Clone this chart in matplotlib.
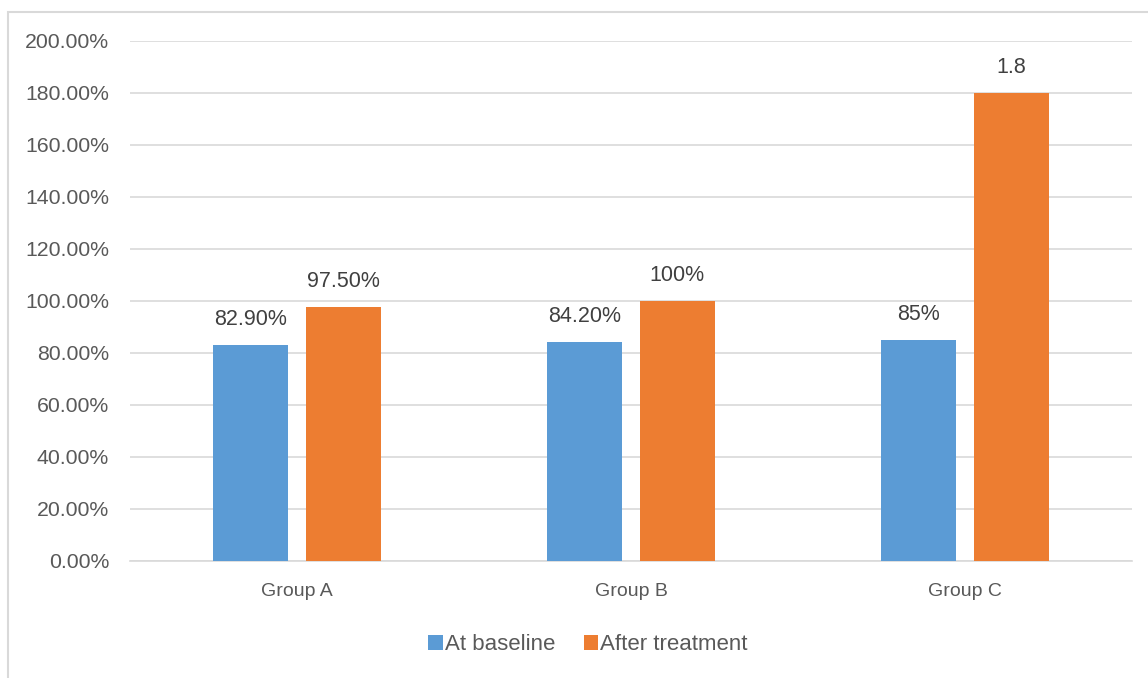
import matplotlib
matplotlib.use("Agg")
import matplotlib.pyplot as plt
import matplotlib.patches as patches
import numpy as np

# data
groups = ["Group A", "Group B", "Group C"]
baseline = [82.9, 84.2, 85.0]
after = [97.5, 100.0, 180.0]
baseline_labels = ["82.90%", "84.20%", "85%"]
after_labels = ["97.50%", "100%", "1.8"]
series_names = ["At baseline", "After treatment"]
yticks = list(range(0, 201, 20))

blue = "#5B9BD5"
orange = "#ED7D31"
grey_text = "#595959"
grid_col = "#D9D9D9"

plt.rcParams['font.family'] = ['Liberation Sans', 'DejaVu Sans']

fig = plt.figure(figsize=(11.48, 6.78), dpi=100)
ax = fig.add_axes([130/1148, 1 - 561/678, 1002/1148, 520/678])

# chart frame (runs past the right and bottom edges, like the crop)
frame = patches.Rectangle((8/1148, -0.1), 1.2, 1.1 - 12/678, transform=fig.transFigure,
                          fill=False, edgecolor="#D9D9D9", linewidth=1.5)
fig.patches.append(frame)

x = np.arange(len(groups))
w = 0.225
off = 0.139
b1 = ax.bar(x - off, baseline, w, color=blue, label=series_names[0], zorder=3)
b2 = ax.bar(x + off, after, w, color=orange, label=series_names[1], zorder=3)

for bars, labs in ((b1, baseline_labels), (b2, after_labels)):
    for rect, lab in zip(bars, labs):
        ax.annotate(lab, (rect.get_x() + rect.get_width()/2, rect.get_height()),
                    xytext=(0, 11), textcoords="offset points", ha="center", va="bottom",
                    fontsize=15.5, color="#404040")

ax.set_xlim(-0.5, 2.5)
ax.set_ylim(0, 200)
ax.set_yticks(yticks)
ax.set_yticklabels(["%.2f%%" % v for v in yticks])
ax.set_xticks(x)
ax.set_xticklabels(groups)
ax.tick_params(axis="y", length=0, pad=15, labelsize=15.3, labelcolor=grey_text)
ax.tick_params(axis="x", length=0, pad=16, labelsize=14, labelcolor=grey_text)

ax.grid(axis="y", color=grid_col, linewidth=1.2, zorder=0)
for s in ("top", "right", "left"):
    ax.spines[s].set_visible(False)
ax.spines["bottom"].set_color(grid_col)
ax.spines["bottom"].set_linewidth(1.2)

leg = fig.legend(loc="center", bbox_to_anchor=(588/1148, 1 - 645/678), ncol=2, frameon=False,
                 handlelength=0.65, handleheight=0.65, handletextpad=0.08, columnspacing=1.3,
                 prop={'size': 16})
for t in leg.get_texts():
    t.set_color(grey_text)

fig.savefig("out.png", dpi=100)
